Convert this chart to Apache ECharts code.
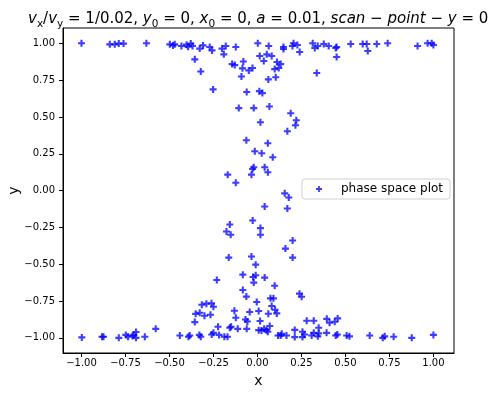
<!DOCTYPE html>
<html>
<head>
<meta charset="utf-8">
<script src="https://cdn.jsdelivr.net/npm/echarts@6/dist/echarts.min.js"></script>
<style>html,body{margin:0;padding:0;background:#fff}#c{width:494px;height:395px}</style>
</head>
<body>
<div id="c"></div>
<script>
// phase space points (x values)
var xs = [
 -1.0,-0.839,-0.811,-0.788,-0.761,-0.631,-0.498,-0.48,-0.47,-0.432,-0.403,-0.394,-0.379,-0.369,-0.356,-0.328,-0.309,-0.322,-0.271,-0.258,-0.252,-0.201,-0.191,-0.18,-0.123,-0.144,-0.129,-0.08,-0.085,-0.091,-0.049,-0.028,-0.061,-0.106,-0.021,
 0.002,0.013,0.036,0.053,0.064,0.081,0.111,0.132,0.098,0.121,0.104,0.062,0.011,0.028,0.068,0.148,0.148,0.205,0.199,0.227,0.24,0.314,0.326,0.343,0.337,0.377,0.405,0.445,0.45,0.45,0.53,0.598,0.621,0.627,0.678,0.74,0.91,0.967,0.99,1.0,
 0.189,0.221,0.216,0.17,0.017,-0.063,0.059,-0.015,0.024,0.087,-0.021,-0.028,0.041,0.059,-0.034,-0.169,-0.123,0.155,0.178,0.041,0.17,-0.027,-0.157,-0.176,-0.152,0.017,0.017,0.2,0.159,0.2,-0.163,-0.034,-0.01,-0.083,-0.025,-0.01,0.041,-0.021,-0.231,0.098,-0.083,
 -0.998,-0.883,-0.875,-0.788,-0.748,-0.735,-0.703,-0.71,-0.69,-0.69,-0.64,-0.578,-0.441,-0.392,-0.385,-0.33,-0.322,-0.356,-0.351,-0.328,-0.316,-0.29,-0.261,-0.301,-0.267,-0.25,-0.26,-0.25,-0.224,-0.218,-0.188,-0.17,-0.157,-0.15,-0.112,-0.131,-0.123,-0.063,-0.068,-0.057,-0.044,-0.061,-0.004,0.007,0.015,0.007,0.023,0.038,0.051,0.059,0.07,0.074,0.081,0.091,0.1,0.11,0.062,0.117,0.132,0.138,0.165,0.212,0.212,0.256,0.267,0.256,0.239,0.251,0.28,0.32,0.308,0.32,0.343,0.348,0.348,0.393,0.394,0.41,0.439,0.456,0.445,0.454,0.507,0.523,0.638,0.712,0.723,0.774,0.877,1.0
];
// phase space points (y values)
var ys = [
 1.0,0.993,0.993,0.998,0.998,1.0,0.993,0.986,0.993,0.982,0.991,0.977,0.998,0.982,0.891,0.964,0.986,0.809,0.975,0.952,0.687,0.964,0.925,0.982,0.975,0.859,0.852,0.877,0.83,0.775,0.816,0.832,0.669,0.56,0.56,
 1.0,0.914,0.88,0.925,0.982,0.914,0.873,0.859,0.825,0.832,0.77,0.755,0.675,0.662,0.571,0.975,0.961,1.0,0.982,0.989,0.941,1.0,0.968,0.982,0.798,0.995,0.982,0.968,0.975,0.907,0.995,0.995,0.995,0.948,0.995,1.0,0.982,1.0,1.0,0.989,
 0.525,0.478,0.444,0.403,0.464,0.342,0.321,0.267,0.253,0.226,0.158,0.147,0.158,0.124,0.108,0.108,0.053,-0.019,-0.047,-0.108,-0.122,-0.203,-0.23,-0.278,-0.3,-0.255,-0.3,-0.339,-0.394,-0.455,-0.455,-0.448,-0.503,-0.571,-0.587,-0.575,-0.591,-0.625,-0.607,-0.646,-0.675,
 -0.997,-0.993,-0.993,-1.0,-0.98,-0.993,-0.98,-0.988,-0.96,-1.0,-0.993,-0.939,-0.984,-0.993,-0.984,-0.98,-0.993,-0.893,-0.837,-0.83,-0.775,-0.768,-0.766,-0.85,-0.843,-0.789,-0.977,-0.966,-0.925,-0.98,-0.993,-0.993,-0.932,-0.925,-0.939,-0.816,-0.864,-0.72,-0.875,-0.889,-0.825,-0.939,-0.757,-0.818,-0.886,-0.948,-0.95,-0.939,-0.948,-0.959,-0.92,-0.732,-0.784,-0.732,-0.809,-0.834,-0.836,-0.984,-0.984,-0.973,-0.984,-0.946,-0.995,-0.959,-0.977,-0.995,-0.7,-0.721,-0.884,-0.884,-0.984,-0.966,-0.99,-0.932,-0.97,-0.966,-0.871,-0.898,-0.891,-0.868,-0.984,-0.977,-0.984,-0.99,-0.984,-1.0,-0.99,-0.993,-1.0,-0.98
];
var xTicks = [-1.0,-0.75,-0.5,-0.25,0.0,0.25,0.5,0.75,1.0];
var yTicks = [-1.0,-0.75,-0.5,-0.25,0.0,0.25,0.5,0.75,1.0];
var seriesName = 'phase space plot';

var pts = xs.map(function(x,i){return [x, ys[i]];});
var plus = 'path://M-1,-0.3L-0.3,-0.3L-0.3,-1L0.3,-1L0.3,-0.3L1,-0.3L1,0.3L0.3,0.3L0.3,1L-0.3,1L-0.3,0.3L-1,0.3Z';
function fmt(v){ var a = Math.abs(v).toFixed(2); return (v < -1e-9 ? '\u2212' : '') + a; }
var FONT = 'DejaVu Sans';

var chart = echarts.init(document.getElementById('c'), null, {renderer:'canvas'});
chart.setOption({
  animation: false,
  backgroundColor: '#fff',
  textStyle: {fontFamily: FONT, color: '#000'},
  title: {
    left: 23, top: 4,
    text: '{i|v}{s|x}{n|/}{i|v}{s|y}{n| = 1/0.02, }{i|y}{s|0}{n| = 0, }{i|x}{s|0}{n| = 0, }{i|a}{n| = 0.01, }{i|scan}{n| \u2212 }{i|point}{n| \u2212 }{i|y}{n| = 0}',
    textStyle: {
      fontWeight: 'normal',
      rich: {
        n: {fontFamily: FONT, fontWeight: 'normal', fontSize: 15, color: '#000', lineHeight: 21},
        i: {fontFamily: FONT, fontWeight: 'normal', fontStyle: 'italic', fontSize: 15, color: '#000', lineHeight: 21},
        s: {fontFamily: FONT, fontWeight: 'normal', fontStyle: 'normal', fontSize: 10.5, color: '#000', lineHeight: 13, verticalAlign: 'bottom', padding:[3,0,0,0]}
      }
    }
  },
  legend: {
    left: 302, top: 179,
    data: [{name: seriesName, icon: plus}],
    itemWidth: 6, itemHeight: 6,
    padding: [4, 7, 4, 14],
    backgroundColor: '#fff',
    borderColor: '#d0d0d0', borderWidth: 1, borderRadius: 3,
    formatter: function(n){ return '{a|' + n + '}'; },
    textStyle: {rich: {a: {fontFamily: FONT, fontSize: 12, color: '#000', padding: [0,0,0,14]}}}
  },
  grid: {left: 63, right: 40, top: 28, bottom: 42, show: true, borderColor: '#000', borderWidth: 1, containLabel: false, outerBoundsMode: 'none'},
  xAxis: {
    type: 'value', min: -1.105, max: 1.117,
    name: 'x', nameLocation: 'middle', nameGap: 21,
    nameTextStyle: {fontFamily: FONT, fontSize: 14, color: '#000'},
    axisLine: {onZero: false, lineStyle: {color: '#000', width: 1}},
    axisTick: {show: true, length: 4, lineStyle: {color: '#000'}, customValues: xTicks},
    axisLabel: {fontFamily: FONT, fontSize: 10, color: '#000', margin: 5, customValues: xTicks, formatter: fmt},
    splitLine: {show: false}
  },
  yAxis: {
    type: 'value', min: -1.103, max: 1.104,
    name: 'y', nameLocation: 'middle', nameGap: 42, nameRotate: 90, nameMoveOverlap: false,
    nameTextStyle: {fontFamily: FONT, fontSize: 14, color: '#000'},
    axisLine: {onZero: false, lineStyle: {color: '#000', width: 1}},
    axisTick: {show: true, length: 4, lineStyle: {color: '#000'}, customValues: yTicks},
    axisLabel: {fontFamily: FONT, fontSize: 10, color: '#000', margin: 8, customValues: yTicks, formatter: fmt},
    splitLine: {show: false}
  },
  series: [{
    name: seriesName, type: 'scatter', data: pts,
    symbol: plus, symbolSize: 7,
    itemStyle: {color: 'rgba(0,0,255,0.95)'}
  }]
});
</script>
</body>
</html>
